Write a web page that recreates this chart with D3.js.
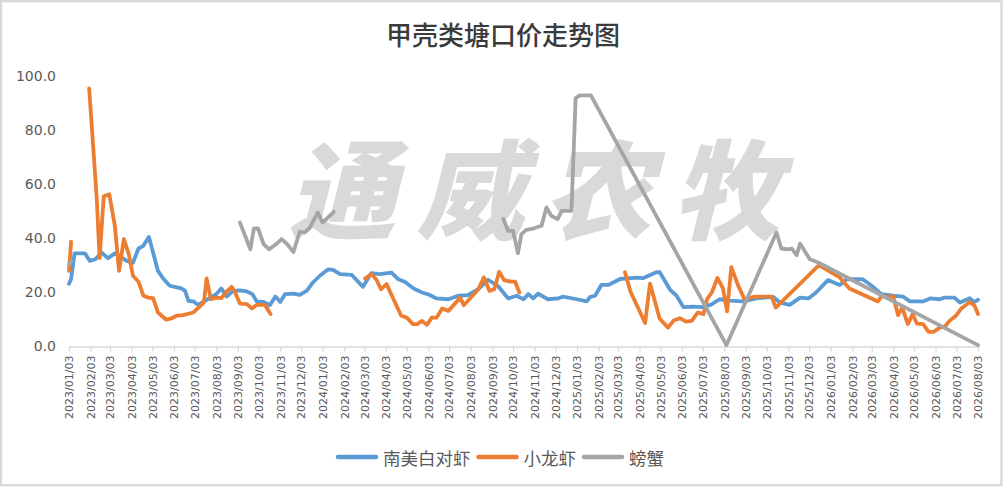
<!DOCTYPE html>
<html>
<head>
<meta charset="utf-8">
<script src="https://cdn.jsdelivr.net/npm/d3@7"></script>
<style>
  body { margin: 0; background: #fff; }
  svg { display: block; }
</style>
</head>
<body>
<div id="chart"></div>
<script>
// 南美白对虾 (blue)
var shrimp = [
  ["2023-01-03",23.2],["2023-01-06",25],["2023-01-11",34.5],["2023-01-26",34.5],["2023-02-02",31.7],["2023-02-10",32.3],
  ["2023-02-19",34.8],["2023-02-28",32.7],["2023-03-10",34.5],["2023-03-18",33.3],["2023-03-27",31.7],["2023-04-05",31],
  ["2023-04-13",36.3],["2023-04-20",37.3],["2023-04-28",40.6],["2023-05-04",34.8],["2023-05-11",28],["2023-05-19",25],
  ["2023-05-28",22.5],["2023-06-07",21.9],["2023-06-14",21.5],["2023-06-19",20.6],["2023-06-24",16.9],["2023-07-01",16.7],
  ["2023-07-08",15.4],["2023-07-15",16.5],["2023-07-25",18],["2023-08-03",19.4],["2023-08-10",21.5],["2023-08-18",18.5],
  ["2023-08-27",20.6],["2023-09-06",20.8],["2023-09-16",20.4],["2023-09-24",19.4],["2023-09-30",16.7],["2023-10-10",16.5],
  ["2023-10-19",15.3],["2023-10-27",18.5],["2023-11-03",16.5],["2023-11-10",19.4],["2023-11-22",19.6],["2023-12-01",19.1],
  ["2023-12-11",20.6],["2023-12-20",23.7],["2023-12-30",26.2],["2024-01-11",28.6],["2024-01-18",28.4],["2024-01-28",26.8],
  ["2024-02-14",26.5],["2024-03-01",22.1],["2024-03-13",27.2],["2024-03-25",26.8],["2024-04-11",27.4],["2024-04-21",24.9],
  ["2024-04-30",24],["2024-05-13",21.5],["2024-05-25",20],["2024-06-05",19.1],["2024-06-15",17.8],["2024-07-02",17.5],
  ["2024-07-16",18.8],["2024-07-30",19],["2024-08-14",21.2],["2024-08-28",24.7],["2024-09-11",22.5],["2024-09-26",17.8],
  ["2024-10-08",18.8],["2024-10-18",17.5],["2024-10-25",19.4],["2024-11-01",17.8],["2024-11-08",19.6],["2024-11-22",17.5],
  ["2024-12-07",17.8],["2024-12-14",18.5],["2025-01-03",17.5],["2025-01-17",16.7],["2025-01-22",18.4],["2025-01-29",18.8],
  ["2025-02-07",22.8],["2025-02-17",22.8],["2025-03-06",25],["2025-03-30",25.5],["2025-04-08",25.3],["2025-04-27",27.5],
  ["2025-05-02",27.5],["2025-05-17",21],["2025-05-26",18.9],["2025-06-05",14.6],["2025-06-19",14.8],["2025-07-03",14.6],
  ["2025-07-15",15.5],["2025-07-27",17.5],["2025-08-11",17],["2025-08-30",16.7],["2025-09-18",17.8],["2025-10-12",18.4],
  ["2025-10-22",16.3],["2025-11-05",15.4],["2025-11-20",18.1],["2025-12-02",17.8],["2025-12-13",20],["2025-12-30",24.6],
  ["2026-01-16",22.8],["2026-01-26",24.9],["2026-02-18",24.9],["2026-03-03",22.5],["2026-03-17",19.4],["2026-04-03",18.8],
  ["2026-04-17",18.5],["2026-04-27",16.7],["2026-05-16",16.7],["2026-05-26",17.8],["2026-06-09",17.5],["2026-06-16",18.1],
  ["2026-06-30",18.1],["2026-07-08",16.3],["2026-07-22",17.9],["2026-07-29",16.5],["2026-08-03",17.3]
];

// 小龙虾 (orange), null = gap in the data
var crayfish = [
  ["2023-01-03",28],["2023-01-06",38.8],["2023-01-10",null],
  ["2023-02-01",95.6],["2023-02-12",54.6],["2023-02-16",32.7],["2023-02-22",55.6],["2023-03-02",56.4],["2023-03-10",44.7],
  ["2023-03-16",28],["2023-03-23",39.8],["2023-03-30",34.2],["2023-04-05",26.2],["2023-04-13",24],["2023-04-20",18.8],
  ["2023-04-27",18.1],["2023-05-04",17.9],["2023-05-11",12.6],["2023-05-23",9.9],["2023-05-30",10.4],["2023-06-07",11.4],
  ["2023-06-16",11.6],["2023-07-01",12.6],["2023-07-10",14.8],["2023-07-16",16.3],["2023-07-20",25.2],["2023-07-26",17.5],
  ["2023-08-03",18.1],["2023-08-10",17.9],["2023-08-18",20.4],["2023-08-25",22.1],["2023-08-30",20],["2023-09-06",15.9],
  ["2023-09-16",15.7],["2023-09-23",14.1],["2023-09-30",15.4],["2023-10-12",15.4],["2023-10-20",12],["2023-11-01",null],
  ["2024-03-04",25.2],["2024-03-13",26.8],["2024-03-20",24.9],["2024-03-27",21.2],["2024-04-04",23.1],["2024-04-14",17.5],
  ["2024-04-25",11.4],["2024-05-03",10.7],["2024-05-12",8.3],["2024-05-18",8.3],["2024-05-25",9.5],["2024-06-01",8],
  ["2024-06-08",10.7],["2024-06-15",10.7],["2024-06-23",14.1],["2024-07-02",13.2],["2024-07-19",18.1],["2024-07-24",15.3],
  ["2024-08-01",17.5],["2024-08-14",21.2],["2024-08-22",25.6],["2024-08-30",20.6],["2024-09-06",21.2],["2024-09-13",27.7],
  ["2024-09-20",24.6],["2024-09-30",24],["2024-10-06",24],["2024-10-12",20],["2024-11-01",null],
  ["2025-03-13",27.5],["2025-03-21",20.3],["2025-04-11",8.7],["2025-04-18",23.3],["2025-05-02",10.3],["2025-05-14",7],
  ["2025-05-22",9.6],["2025-05-31",10.5],["2025-06-09",9.2],["2025-06-17",9.5],["2025-06-26",12.6],["2025-07-04",12],
  ["2025-07-09",17.5],["2025-07-16",20],["2025-07-24",25.4],["2025-08-01",21.5],["2025-08-07",13],["2025-08-13",29.4],
  ["2025-08-23",22.5],["2025-09-01",17.5],["2025-09-16",18.5],["2025-10-10",18.5],["2025-10-16",14.4],["2025-12-17",30.1],
  ["2026-01-16",25.6],["2026-01-30",21.5],["2026-03-12",16.7],["2026-03-17",18.5],["2026-04-03",18.5],["2026-04-10",11.6],
  ["2026-04-16",14.4],["2026-04-24",8.3],["2026-05-01",12],["2026-05-07",8.5],["2026-05-16",8.3],["2026-05-24",5.4],
  ["2026-05-31",5.4],["2026-06-09",7],["2026-06-16",7.3],["2026-06-23",9.5],["2026-07-03",11.6],["2026-07-10",14.1],
  ["2026-07-22",16.5],["2026-07-29",15.1],["2026-08-03",12]
];

// 螃蟹 (gray)
var crab = [
  ["2023-01-03",30.5],["2023-01-06",31.5],["2023-01-10",null],
  ["2023-09-06",45.9],["2023-09-21",36],["2023-09-26",43.7],["2023-10-02",43.7],["2023-10-10",37.9],["2023-10-18",36],
  ["2023-10-28",37.9],["2023-11-05",39.8],["2023-11-13",37.9],["2023-11-22",35],["2023-12-01",42.5],["2023-12-08",42.2],
  ["2023-12-15",43.8],["2023-12-27",49.6],["2024-01-03",45.9],["2024-01-19",49.9],["2024-02-01",null],
  ["2024-09-19",47.2],["2024-09-26",42.8],["2024-10-03",42.8],["2024-10-10",34.6],["2024-10-15",41.6],["2024-10-22",43.2],
  ["2024-11-01",43.7],["2024-11-13",44.7],["2024-11-20",51.5],["2024-11-27",48.4],["2024-12-06",47.2],["2024-12-12",50.2],
  ["2024-12-26",50.2],["2025-01-01",92],["2025-01-07",93],["2025-01-23",93],["2025-08-06",0.5],["2025-10-17",42.2],
  ["2025-10-24",36.3],["2025-11-03",36],["2025-11-08",36.3],["2025-11-15",33.8],["2025-11-20",38.1],["2025-11-25",36],
  ["2025-12-04",32.3],["2025-12-16",31.1],["2026-08-03",0.5]
];

var seriesNames = ["南美白对虾", "小龙虾", "螃蟹"];
var seriesColors = ["#5B9BD5", "#ED7D31", "#A5A5A5"];
var yTicks = [0, 20, 40, 60, 80, 100];
var xStart = "2023-01-03", xEnd = "2026-08-03";

var width = 1004, height = 487;
var parse = d3.utcParse("%Y-%m-%d");

var svg = d3.select("#chart").append("svg")
            .attr("width", width)
            .attr("height", height);

// chart border
svg.append("rect")
   .attr("x", 1).attr("y", 1.2)
   .attr("width", 1000.5).attr("height", 484)
   .attr("fill", "#fff")
   .attr("stroke", "#d9d9d9")
   .attr("stroke-width", 2.4);

var x = d3.scaleUtc()
          .domain([parse(xStart), parse(xEnd)])
          .range([69, 978]);
var y = d3.scaleLinear()
          .domain([0, 100])
          .range([346.5, 76.5]);

// title
svg.append("text")
   .attr("x", 503).attr("y", 33)
   .attr("text-anchor", "middle")
   .attr("dominant-baseline", "central")
   .style("font-family", "'Noto Sans CJK SC', sans-serif")
   .style("font-size", "26px")
   .style("font-weight", 500)
   .style("fill", "#3a3a3a")
   .text("甲壳类塘口价走势图");

// watermark
svg.append("text")
   .attr("x", 534).attr("y", 231)
   .attr("text-anchor", "middle")
   .attr("textLength", 492)
   .attr("lengthAdjust", "spacing")
   .style("font-family", "'Noto Sans CJK SC', sans-serif")
   .style("font-size", "108px")
   .style("font-weight", 900)
   .style("font-style", "italic")
   .style("fill", "#d9d9d9")
   .text("通威农牧");

// y axis (labels only)
var yAxis = svg.append("g")
   .attr("transform", "translate(60,0)")
   .call(d3.axisLeft(y).tickValues(yTicks).tickFormat(d3.format(".1f")).tickSize(0).tickPadding(4));
yAxis.select(".domain").remove();
yAxis.selectAll("text")
     .style("font-family", "'DejaVu Sans', sans-serif")
     .style("font-size", "14px")
     .style("fill", "#595959");

// x axis, a tick on the 3rd of every month
var monthTicks = d3.utcMonth.range(d3.utcMonth.floor(parse(xStart)), d3.utcDay.offset(parse(xEnd), 1))
                   .map(function(d) { return d3.utcDay.offset(d, 2); });
var xAxis = svg.append("g")
   .attr("transform", "translate(0," + y(0) + ")")
   .call(d3.axisBottom(x).tickValues(monthTicks).tickFormat(d3.utcFormat("%Y/%m/%d")).tickSize(5).tickSizeOuter(0));
xAxis.select(".domain").attr("stroke", "#d9d9d9").attr("stroke-width", 1.5);
xAxis.selectAll(".tick line").attr("stroke", "#d9d9d9").attr("stroke-width", 1.2);
xAxis.selectAll("text")
     .attr("transform", "rotate(-90)")
     .attr("x", -9).attr("y", 0).attr("dy", "0.35em")
     .attr("text-anchor", "end")
     .style("font-family", "'DejaVu Sans', sans-serif")
     .style("font-size", "11px")
     .style("fill", "#595959");

// lines
var line = d3.line()
             .defined(function(d) { return d[1] != null; })
             .x(function(d) { return x(parse(d[0])); })
             .y(function(d) { return y(d[1]); });

[shrimp, crayfish, crab].forEach(function(data, i) {
  svg.append("path")
     .datum(data)
     .attr("fill", "none")
     .attr("stroke", seriesColors[i])
     .attr("stroke-width", 3.8)
     .attr("stroke-linejoin", "round")
     .attr("stroke-linecap", "round")
     .attr("d", line);
});

// legend
var legend = svg.append("g").attr("transform", "translate(0,457)");
var lx = 338;
seriesNames.forEach(function(name, i) {
  legend.append("line")
        .attr("x1", lx).attr("x2", lx + 38)
        .attr("y1", 0).attr("y2", 0)
        .attr("stroke", seriesColors[i])
        .attr("stroke-width", 4.5)
        .attr("stroke-linecap", "round");
  var t = legend.append("text")
        .attr("x", lx + 45).attr("y", 0)
        .attr("dominant-baseline", "central")
        .style("font-family", "'Noto Sans CJK SC', sans-serif")
        .style("font-size", "17.5px")
        .style("fill", "#595959")
        .text(name);
  lx += 45 + t.node().getComputedTextLength() + 8;
});
</script>
</body>
</html>
